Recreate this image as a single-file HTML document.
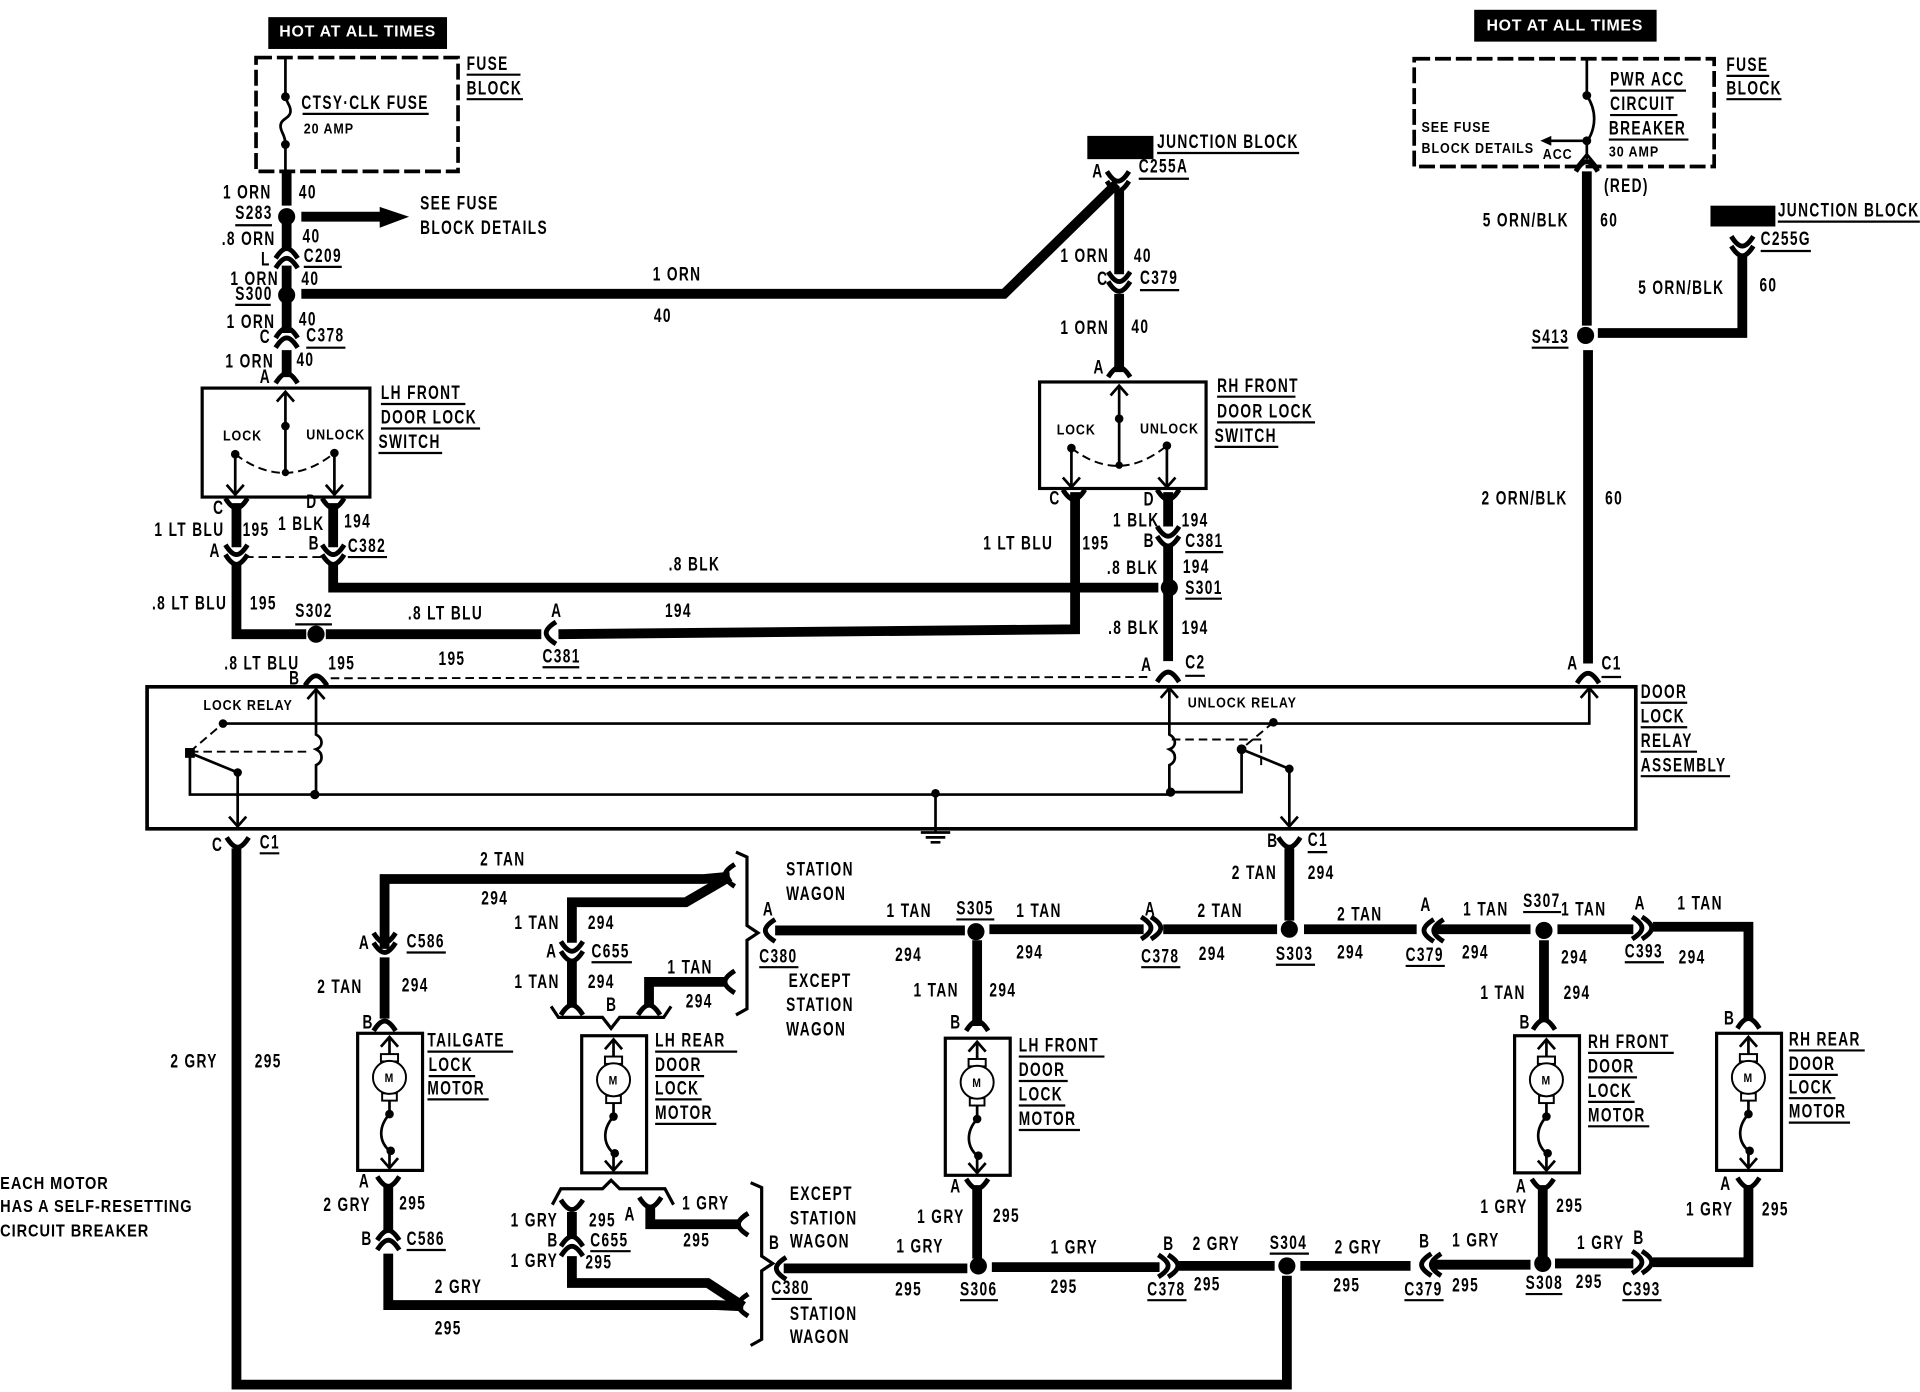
<!DOCTYPE html>
<html><head><meta charset="utf-8"><style>
html,body{margin:0;padding:0;background:#fff}
svg{display:block}
text{font-family:"Liberation Sans",sans-serif;font-weight:700;font-size:16px;letter-spacing:1.6px;fill:#000;transform-box:fill-box;transform-origin:0 50%;transform:scaleX(.7)}
.s{font-size:12px;letter-spacing:.9px;transform:scaleX(.85)}
.h{font-size:13px;fill:#fff;letter-spacing:.6px;text-anchor:middle;transform:none}
.w{fill:none;stroke:#000;stroke-width:8;stroke-linejoin:miter}
.t{fill:none;stroke:#000;stroke-width:2.2}
.m{fill:none;stroke:#000;stroke-width:3}
.d{fill:none;stroke:#000;stroke-width:3;stroke-dasharray:13 4}
.n{fill:none;stroke:#000;stroke-width:1.6;stroke-dasharray:7 4}
.u{fill:none;stroke:#000;stroke-width:1.8}
.c{fill:none;stroke:#000;stroke-width:4}
</style></head><body>
<svg width="1920" height="1392" viewBox="0 0 1568 1137" xmlns="http://www.w3.org/2000/svg">
<defs>
<path id="ar" class="c" d="M-9,4 Q-4,-4 0,-4 Q4,-4 9,4"/>
<path id="vv" class="c" d="M-9,-4 Q-4,4 0,4 Q4,4 9,-4"/>
<g id="ap"><use href="#ar"/><use href="#ar" y="8"/></g>
<g id="vp"><use href="#vv"/><use href="#vv" y="8"/></g>
<path id="up" class="t" d="M-7,8 L0,0 L7,8"/>
<path id="dn" class="t" d="M-7,-8 L0,0 L7,-8"/>
<g id="motor">
<rect x="-26" y="0" width="53" height="112" fill="#fff" stroke="#000" stroke-width="2.6"/>
<path class="t" d="M0,3V18"/><use href="#up" y="3"/>
<rect x="-7" y="17" width="14" height="6" fill="#fff" stroke="#000" stroke-width="1.6"/>
<rect x="-6" y="49" width="12" height="6" fill="#fff" stroke="#000" stroke-width="1.6"/>
<circle cx="0" cy="36" r="13.5" fill="#fff" stroke="#000" stroke-width="1.6"/>
<text class="s" x="-4" y="40" style="font-size:10px;letter-spacing:0">M</text>
<path class="t" d="M0,55V64"/><circle cx="0" cy="66" r="3.5"/>
<path class="t" d="M0,66C-9,76 -9,88 0,96"/><circle cx="1" cy="96" r="3.5"/>
<path class="t" d="M0,96V110"/><use href="#dn" y="110"/>
</g>
<path id="brace" class="t" style="stroke-width:2.6" d="M-12,0 L-3,4 L-3,60 L6,66 L-3,72 L-3,128 L-12,133"/>
</defs>

<!-- hot boxes -->
<rect x="219" y="14" width="146" height="26"/><text class="h" x="292" y="30">HOT AT ALL TIMES</text>
<rect x="1204" y="8" width="149" height="26"/><text class="h" x="1278" y="25">HOT AT ALL TIMES</text>
<rect x="888" y="111" width="54" height="19"/>
<rect x="1397" y="168" width="53" height="17"/>

<!-- fuse blocks -->
<rect class="d" x="209" y="47" width="165" height="93"/>
<rect class="d" x="1155" y="48" width="245" height="88"/>
<path class="t" d="M233,47V77C233,84 238,86 237,92C236,97 229,97 229,103C229,108 233,110 233,118V140"/>
<circle cx="233" cy="79" r="3.6"/><circle cx="233" cy="118" r="3.6"/>
<path class="t" d="M1296,48V78C1304,90 1304,104 1296,116V130M1296,115H1266"/>
<circle cx="1296" cy="78" r="3.6"/><circle cx="1296" cy="115" r="3.6"/>
<path d="M1258,115l9,-4v8z"/>
<path class="t" d="M1287,137L1296,126L1305,137"/>

<!-- thick wires -->
<path class="w" d="M234,140V168M234,180V205M234,217V236M234,245V272M234,286V308"/>
<path class="w" d="M246,240H820L912,150"/>
<path class="w" d="M246,177H312"/><path d="M310,169L334,177L310,186z"/>
<path class="w" d="M914,156V224M914,240V304"/>
<path class="w" d="M193,411V447M272,411V447M272,460V480H946M193,460V518H250M266,518H442M456,518L878,514V402"/>
<path class="w" d="M954,402V430M954,446V540"/>
<path class="w" d="M1296,140V266M1305,272H1423V208M1297,286V542"/>
<path class="w" d="M193,693V1131H1051V1042"/>
<path class="w" d="M1053,693V752"/>
<path class="w" d="M633,760H788M808,759H934M950,759H1043M1065,759H1157M1172,759H1250M1272,759H1334M1350,757H1428V832"/>
<path class="w" d="M798,768V838M1261,768V834"/>
<path class="w" d="M314,775V718H575L596,716M596,716L560,737H467V770M314,782V832"/>
<path class="w" d="M467,785V822M594,802H530V822"/>
<path class="w" d="M640,1036H790M810,1035H947M962,1034H1041M1062,1034H1152M1170,1033H1250M1270,1032H1334M1350,1031H1428V968"/>
<path class="w" d="M798,968V1028M1260,968V1026"/>
<path class="w" d="M317,968V1006M317,1024V1066H585L607,1067M607,1067L578,1048H467V1026M467,990V1012"/>
<path class="w" d="M605,1000H531V985"/>

<!-- splice dots -->
<g>
<circle cx="234" cy="177" r="7"/><circle cx="234" cy="241" r="7"/><circle cx="258" cy="518" r="7"/>
<circle cx="955" cy="480" r="7"/><circle cx="1295" cy="274" r="7"/><circle cx="797" cy="761" r="7"/>
<circle cx="1053" cy="759" r="7"/><circle cx="1261" cy="760" r="7"/><circle cx="799" cy="1034" r="7"/>
<circle cx="1051" cy="1034" r="7"/><circle cx="1260" cy="1032" r="7"/>
</g>

<!-- connectors -->
<use href="#ap" x="234" y="207"/><use href="#ap" x="234" y="272"/><use href="#ar" x="234" y="309"/>
<use href="#vp" x="913" y="144"/><use href="#vp" x="914" y="226"/><use href="#ar" x="914" y="304"/>
<use href="#vv" x="193" y="411"/><use href="#vv" x="272" y="411"/><use href="#vp" x="193" y="449"/><use href="#vp" x="272" y="449"/>
<use href="#vv" x="877" y="404"/><use href="#vv" x="954" y="404"/><use href="#vp" x="954" y="434"/>
<use href="#vp" x="1423" y="197"/><use href="#ar" x="1296" y="136"/>
<use href="#ar" x="258" y="556"/><use href="#ar" x="954" y="553"/><use href="#ar" x="1297" y="554"/>
<use href="#vv" x="194" y="688"/><use href="#vv" x="1053" y="688"/>
<use href="#vp" x="314" y="766"/><use href="#ar" x="314" y="838"/>
<use href="#vp" x="467" y="773"/><use href="#ar" x="467" y="825"/><use href="#ar" x="530" y="825"/>
<use href="#vv" x="317" y="965"/><use href="#ap" x="317" y="1009"/>
<use href="#vv" x="467" y="984"/><use href="#vv" x="531" y="982"/><use href="#ap" x="467" y="1014"/>
<use href="#ar" x="798" y="838"/><use href="#vv" x="798" y="967"/>
<use href="#ar" x="1261" y="837"/><use href="#vv" x="1260" y="967"/>
<use href="#ar" x="1428" y="836"/><use href="#vv" x="1428" y="966"/>
<use href="#ar" transform="translate(629,760) rotate(-90)"/>
<use href="#ar" transform="translate(596,715) rotate(-90)"/>
<use href="#ar" transform="translate(596,802) rotate(-90)"/>
<use href="#ar" transform="translate(607,1000) rotate(-90)"/>
<use href="#ar" transform="translate(607,1066) rotate(-90)"/>
<use href="#ar" transform="translate(638,1036) rotate(-90)"/>
<use href="#ar" transform="translate(450,517) rotate(-90)"/>
<use href="#vp" transform="translate(936,758) rotate(-90)"/>
<use href="#vp" transform="translate(950,1034) rotate(-90)"/>
<use href="#vp" transform="translate(1337,758) rotate(-90)"/>
<use href="#vp" transform="translate(1337,1031) rotate(-90)"/>
<use href="#ap" transform="translate(1167,760) rotate(-90)"/>
<use href="#ap" transform="translate(1165,1033) rotate(-90)"/>

<!-- switches -->
<rect x="165" y="317" width="137" height="89" fill="none" stroke="#000" stroke-width="2.6"/>
<rect x="849" y="312" width="136" height="87" fill="none" stroke="#000" stroke-width="2.6"/>
<path class="t" d="M233,320V386M192,371V404M273,370V404M914,315V380M875,366V398M953,364V398"/>
<use href="#up" x="233" y="320"/><use href="#up" x="914" y="315"/>
<use href="#dn" x="192" y="404"/><use href="#dn" x="273" y="404"/><use href="#dn" x="875" y="398"/><use href="#dn" x="953" y="398"/>
<circle cx="233" cy="348" r="3.5"/><circle cx="233" cy="386" r="3"/><circle cx="192" cy="371" r="3.5"/><circle cx="273" cy="370" r="3.5"/>
<circle cx="914" cy="342" r="3.5"/><circle cx="914" cy="380" r="3"/><circle cx="875" cy="366" r="3.5"/><circle cx="953" cy="364" r="3.5"/>
<path class="n" d="M192,371Q233,402 273,370M875,366Q914,396 953,364"/>

<!-- relay box -->
<path d="M120,561H1336V677H120Z" fill="none" stroke="#000" stroke-width="3"/>
<path class="n" d="M270,554L940,553"/>
<path class="n" d="M200,455H265"/>
<path class="t" d="M258,563V600C264,603 264,610 258,612C264,615 264,622 258,625V649M182,591H1298V562M258,563V591M155,615V649H956"/>
<use href="#up" x="258" y="563"/><use href="#up" x="1298" y="562"/><use href="#up" x="955" y="562"/>
<path class="t" d="M955,562V600C961,603 961,610 955,612C961,615 961,622 955,625V647M1014,612V647H956M1014,612L1053,628V675M155,615L194,631V675"/>
<use href="#dn" x="194" y="675"/><use href="#dn" x="1053" y="675"/>
<circle cx="182" cy="591" r="3.5"/><rect x="151" y="611" width="8" height="8"/><circle cx="194" cy="631" r="3.5"/><circle cx="257" cy="649" r="3.8"/>
<circle cx="1040" cy="590" r="3.5"/><circle cx="1014" cy="612" r="4"/><circle cx="1053" cy="628" r="3.5"/><circle cx="956" cy="647" r="3.8"/><circle cx="764" cy="648" r="3.5"/>
<path class="n" d="M155,614L182,591M155,614H252M1040,590L1016,610M957,604H1030V625"/>
<path class="t" d="M764,649V680M752,680H776M756,684H772M760,688H768"/>

<!-- motors -->
<use href="#motor" x="318" y="844"/><use href="#motor" x="501" y="846"/><use href="#motor" x="798" y="848"/><use href="#motor" x="1263" y="846"/><use href="#motor" x="1428" y="844"/>
<use href="#brace" x="613" y="696"/><use href="#brace" x="625" y="966"/>
<path class="t" style="stroke-width:2.6" d="M450,822L456,831H492L499,840L506,831H542L548,822"/>
<path class="t" style="stroke-width:2.6" d="M451,984L458,971H492L499,964L506,971H543L550,984"/>

<!-- underlines -->
<path class="u" d="M247,93h103M381,61h44M381,81h46M192,184h30M248,218h31M192,249h29M250,284h32M311,330h69M311,350h81M309,370h52M945,125h116M930,146h41M931,237h32M994,324h64M994,345h80M992,365h52M1438,205h41M1452,181h116M1251,284h30M1315,74h62M1315,94h55M1314,114h65M284,455h32M968,451h31M968,489h30M241,510h30M443,545h30M968,552h16M1308,553h16M212,697h16M1068,696h16M1340,574h38M1340,594h38M1340,614h46M1340,634h73M1410,62h35M1410,81h45M620,790h32M332,778h32M483,786h33M781,751h31M932,790h32M1042,788h32M1148,789h32M1244,745h31M1327,786h32M349,859h70M350,879h38M349,898h50M535,859h67M535,879h40M535,898h38M535,918h50M832,863h70M832,883h40M832,903h38M832,923h50M1297,860h70M1297,880h40M1297,900h38M1297,920h50M1461,858h62M1461,878h40M1461,897h38M1461,917h50M332,1021h32M482,1022h33M630,1061h33M784,1062h31M937,1062h32M1037,1024h32M1147,1062h32M1246,1057h30M1325,1062h32"/>

<!-- labels -->
<g>
<text x="246" y="89">CTSY·CLK FUSE</text><text class="s" x="248" y="109">20 AMP</text>
<text x="381" y="57">FUSE</text><text x="381" y="77">BLOCK</text>
<text x="182" y="162">1 ORN</text><text x="244" y="162">40</text>
<text x="192" y="179">S283</text><text x="343" y="171">SEE FUSE</text><text x="343" y="191">BLOCK DETAILS</text>
<text x="181" y="200">.8 ORN</text><text x="247" y="198">40</text>
<text x="213" y="217">L</text><text x="248" y="214">C209</text>
<text x="188" y="233">1 ORN</text><text x="246" y="233">40</text>
<text x="192" y="245">S300</text>
<text x="533" y="229">1 ORN</text><text x="534" y="263">40</text>
<text x="185" y="268">1 ORN</text><text x="244" y="266">40</text>
<text x="212" y="280">C</text><text x="250" y="279">C378</text>
<text x="184" y="300">1 ORN</text><text x="242" y="299">40</text>
<text x="212" y="313">A</text>
<text x="311" y="326">LH FRONT</text><text x="311" y="346">DOOR LOCK</text><text x="309" y="366">SWITCH</text>
<text class="s" x="182" y="360">LOCK</text><text class="s" x="250" y="359">UNLOCK</text>
<text x="174" y="420">C</text><text x="250" y="415">D</text>
<text x="126" y="438">1 LT BLU</text><text x="198" y="438">195</text>
<text x="227" y="433">1 BLK</text><text x="281" y="431">194</text>
<text x="171" y="455">A</text><text x="252" y="449">B</text><text x="284" y="451">C382</text>
<text x="546" y="466">.8 BLK</text>
<text x="124" y="498">.8 LT BLU</text><text x="204" y="498">195</text>
<text x="241" y="504">S302</text><text x="333" y="506">.8 LT BLU</text><text x="543" y="504">194</text><text x="450" y="504">A</text>
<text x="443" y="541">C381</text><text x="358" y="543">195</text>
<text x="183" y="547">.8 LT BLU</text><text x="268" y="547">195</text><text x="236" y="559">B</text>

<text x="945" y="121">JUNCTION BLOCK</text>
<text x="892" y="145">A</text><text x="930" y="141">C255A</text>
<text x="866" y="214">1 ORN</text><text x="926" y="214">40</text>
<text x="896" y="233">C</text><text x="931" y="232">C379</text>
<text x="866" y="273">1 ORN</text><text x="924" y="272">40</text><text x="893" y="305">A</text>
<text x="994" y="320">RH FRONT</text><text x="994" y="341">DOOR LOCK</text><text x="992" y="361">SWITCH</text>
<text class="s" x="863" y="355">LOCK</text><text class="s" x="931" y="354">UNLOCK</text>
<text x="857" y="412">C</text><text x="934" y="413">D</text>
<text x="803" y="449">1 LT BLU</text><text x="884" y="449">195</text>
<text x="909" y="430">1 BLK</text><text x="965" y="430">194</text>
<text x="934" y="447">B</text><text x="968" y="447">C381</text>
<text x="904" y="469">.8 BLK</text><text x="966" y="468">194</text><text x="968" y="485">S301</text>
<text x="905" y="518">.8 BLK</text><text x="965" y="518">194</text>
<text x="932" y="548">A</text><text x="968" y="546">C2</text>

<text x="1410" y="58">FUSE</text><text x="1410" y="77">BLOCK</text>
<text x="1315" y="70">PWR ACC</text><text x="1315" y="90">CIRCUIT</text><text x="1314" y="110">BREAKER</text><text class="s" x="1314" y="128">30 AMP</text>
<text class="s" x="1161" y="108">SEE FUSE</text><text class="s" x="1161" y="125">BLOCK DETAILS</text><text class="s" x="1260" y="130">ACC</text>
<text x="1310" y="157">(RED)</text>
<text x="1211" y="185">5 ORN/BLK</text><text x="1307" y="185">60</text>
<text x="1452" y="177">JUNCTION BLOCK</text><text x="1438" y="200">C255G</text>
<text x="1338" y="240">5 ORN/BLK</text><text x="1437" y="238">60</text>
<text x="1251" y="280">S413</text>
<text x="1210" y="412">2 ORN/BLK</text><text x="1311" y="412">60</text>
<text x="1280" y="547">A</text><text x="1308" y="547">C1</text>

<text x="1340" y="570">DOOR</text><text x="1340" y="590">LOCK</text><text x="1340" y="610">RELAY</text><text x="1340" y="630">ASSEMBLY</text>
<text class="s" x="166" y="580">LOCK RELAY</text><text class="s" x="970" y="578">UNLOCK RELAY</text>
<text x="173" y="695">C</text><text x="212" y="693">C1</text>
<text x="1035" y="692">B</text><text x="1068" y="691">C1</text>
<text x="1006" y="718">2 TAN</text><text x="1068" y="718">294</text>
<text x="139" y="872">2 GRY</text><text x="208" y="872">295</text>
<text class="s" style="font-size:14px" x="0" y="971">EACH MOTOR</text><text class="s" style="font-size:14px" x="0" y="990">HAS A SELF-RESETTING</text><text class="s" style="font-size:14px" x="0" y="1010">CIRCUIT BREAKER</text>

<text x="392" y="707">2 TAN</text><text x="393" y="739">294</text>
<text x="420" y="759">1 TAN</text><text x="480" y="759">294</text>
<text x="293" y="775">A</text><text x="332" y="774">C586</text>
<text x="446" y="782">A</text><text x="483" y="782">C655</text>
<text x="259" y="811">2 TAN</text><text x="328" y="810">294</text>
<text x="420" y="807">1 TAN</text><text x="480" y="807">294</text>
<text x="545" y="795">1 TAN</text><text x="560" y="823">294</text>
<text x="495" y="826">B</text><text x="296" y="840">B</text>
<text x="642" y="715">STATION</text><text x="642" y="735">WAGON</text>
<text x="623" y="748">A</text><text x="620" y="786">C380</text>
<text x="644" y="806">EXCEPT</text><text x="642" y="826">STATION</text><text x="642" y="846">WAGON</text>
<text x="349" y="855">TAILGATE</text><text x="350" y="875">LOCK</text><text x="349" y="894">MOTOR</text>
<text x="535" y="855">LH REAR</text><text x="535" y="875">DOOR</text><text x="535" y="894">LOCK</text><text x="535" y="914">MOTOR</text>
<text x="724" y="749">1 TAN</text><text x="731" y="785">294</text><text x="781" y="747">S305</text>
<text x="830" y="749">1 TAN</text><text x="830" y="783">294</text><text x="935" y="748">A</text><text x="932" y="786">C378</text>
<text x="978" y="749">2 TAN</text><text x="979" y="784">294</text><text x="1042" y="784">S303</text>
<text x="1092" y="752">2 TAN</text><text x="1092" y="783">294</text><text x="1160" y="744">A</text><text x="1148" y="785">C379</text>
<text x="1195" y="748">1 TAN</text><text x="1194" y="783">294</text><text x="1244" y="741">S307</text>
<text x="1275" y="748">1 TAN</text><text x="1275" y="787">294</text><text x="1335" y="743">A</text><text x="1327" y="782">C393</text>
<text x="1370" y="743">1 TAN</text><text x="1371" y="787">294</text>
<text x="746" y="814">1 TAN</text><text x="808" y="814">294</text>
<text x="1209" y="816">1 TAN</text><text x="1277" y="816">294</text>
<text x="776" y="840">B</text><text x="1241" y="840">B</text><text x="1408" y="837">B</text>
<text x="832" y="859">LH FRONT</text><text x="832" y="879">DOOR</text><text x="832" y="899">LOCK</text><text x="832" y="919">MOTOR</text>
<text x="1297" y="856">RH FRONT</text><text x="1297" y="876">DOOR</text><text x="1297" y="896">LOCK</text><text x="1297" y="916">MOTOR</text>
<text x="1461" y="854">RH REAR</text><text x="1461" y="874">DOOR</text><text x="1461" y="893">LOCK</text><text x="1461" y="913">MOTOR</text>

<text x="293" y="970">A</text><text x="776" y="974">A</text><text x="1238" y="974">A</text><text x="1405" y="972">A</text>
<text x="264" y="989">2 GRY</text><text x="326" y="988">295</text>
<text x="749" y="999">1 GRY</text><text x="811" y="998">295</text>
<text x="1209" y="991">1 GRY</text><text x="1271" y="990">295</text>
<text x="1377" y="993">1 GRY</text><text x="1439" y="993">295</text>
<text x="417" y="1002">1 GRY</text><text x="481" y="1002">295</text><text x="510" y="997">A</text>
<text x="557" y="988">1 GRY</text><text x="558" y="1018">295</text>
<text x="295" y="1017">B</text><text x="332" y="1017">C586</text>
<text x="447" y="1018">B</text><text x="482" y="1018">C655</text>
<text x="417" y="1035">1 GRY</text><text x="478" y="1036">295</text>
<text x="355" y="1056">2 GRY</text><text x="355" y="1090">295</text>
<text x="645" y="980">EXCEPT</text><text x="645" y="1000">STATION</text><text x="645" y="1019">WAGON</text>
<text x="628" y="1020">B</text><text x="630" y="1057">C380</text>
<text x="645" y="1078">STATION</text><text x="645" y="1097">WAGON</text>
<text x="732" y="1023">1 GRY</text><text x="731" y="1058">295</text><text x="784" y="1058">S306</text>
<text x="858" y="1024">1 GRY</text><text x="858" y="1056">295</text><text x="950" y="1021">B</text><text x="937" y="1058">C378</text>
<text x="974" y="1021">2 GRY</text><text x="975" y="1054">295</text><text x="1037" y="1020">S304</text>
<text x="1090" y="1024">2 GRY</text><text x="1089" y="1055">295</text><text x="1159" y="1019">B</text><text x="1147" y="1058">C379</text>
<text x="1186" y="1018">1 GRY</text><text x="1186" y="1055">295</text><text x="1246" y="1053">S308</text>
<text x="1288" y="1020">1 GRY</text><text x="1287" y="1052">295</text><text x="1334" y="1016">B</text><text x="1325" y="1058">C393</text>
</g>
</svg>
</body></html>
